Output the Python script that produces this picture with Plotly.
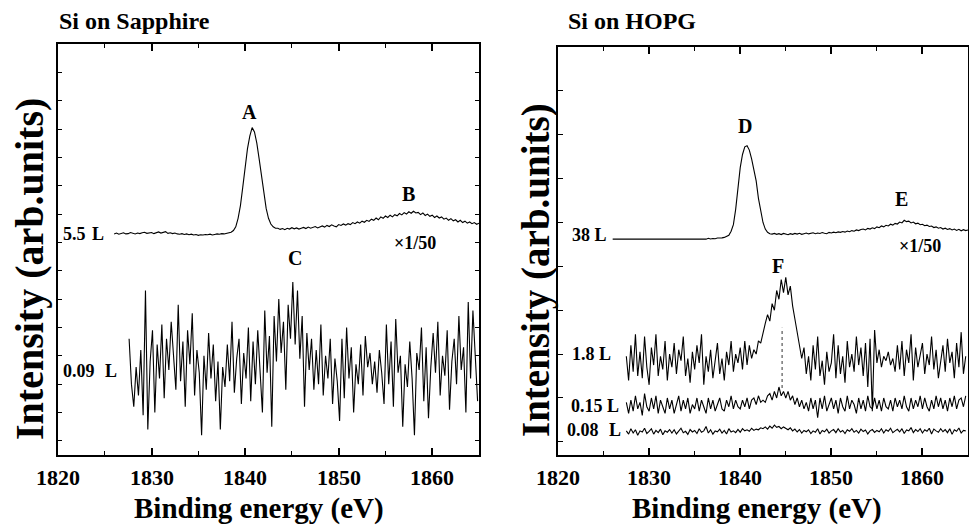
import plotly.graph_objects as go

# ---------------- data ----------------
X_RANGE = [1820, 1865]
X_TICKS = [1820, 1830, 1840, 1850, 1860]

# Si on Sapphire, 5.5 L (x1/50), grid start / step in eV
S55_START, S55_STEP = 1826.0, 0.25
S55_I = [7.30,7.33,7.29,7.32,7.34,7.30,7.31,7.35,7.32,7.30,
         7.33,7.31,7.34,7.36,7.32,7.33,7.35,7.31,7.34,7.37,
         7.33,7.35,7.38,7.32,7.34,7.31,7.33,7.30,7.29,7.31,
         7.28,7.30,7.27,7.29,7.26,7.28,7.25,7.27,7.26,7.28,
         7.27,7.29,7.26,7.28,7.30,7.29,7.31,7.30,7.32,7.33,
         7.36,7.42,7.55,7.85,8.30,8.95,9.65,10.30,10.75,11.05,
         10.90,10.50,9.95,9.30,8.70,8.20,7.85,7.65,7.55,7.50,
         7.50,7.46,7.49,7.45,7.50,7.47,7.52,7.48,7.51,7.47,
         7.50,7.53,7.49,7.54,7.50,7.52,7.56,7.51,7.55,7.58,
         7.54,7.60,7.56,7.62,7.58,7.55,7.63,7.60,7.65,7.61,
         7.66,7.63,7.70,7.66,7.72,7.68,7.75,7.71,7.78,7.74,
         7.82,7.78,7.86,7.80,7.90,7.85,7.93,7.88,7.96,7.90,
         7.98,7.94,8.02,7.97,8.05,8.00,8.08,8.03,8.10,8.04,
         8.06,7.98,8.04,7.95,8.00,7.92,7.96,7.88,7.93,7.86,
         7.90,7.82,7.86,7.78,7.84,7.76,7.80,7.72,7.78,7.70,
         7.75,7.68,7.72,7.66,7.70,7.64,7.68]

# Si on Sapphire, 0.09 L
S009_START, S009_STEP = 1827.6, 0.25
S009_I = [3.6,2.0,1.2,2.6,1.6,3.2,0.9,5.3,0.4,2.8,
          3.9,1.0,3.4,2.2,4.1,1.5,3.6,2.5,4.2,3.0,
          1.8,4.8,2.1,3.5,1.2,3.9,2.7,4.5,1.6,3.2,
          2.4,0.2,3.0,1.8,3.8,2.2,3.4,1.4,2.8,0.4,
          2.6,1.9,3.4,2.1,4.2,1.7,2.9,3.6,1.3,3.1,
          2.2,4.0,1.4,3.5,2.0,3.9,2.6,1.0,4.6,2.4,
          3.7,0.5,4.4,2.8,5.0,3.1,4.2,1.8,4.8,3.6,
          5.6,3.4,5.3,2.9,4.4,1.2,3.8,2.5,3.6,1.8,
          3.2,2.0,4.1,1.6,3.0,2.2,3.6,1.3,2.9,2.1,
          0.7,3.6,1.5,4.0,2.2,3.3,1.0,2.7,2.0,3.4,
          1.6,3.7,2.6,3.1,2.0,2.8,1.7,3.2,2.4,1.3,
          4.1,2.0,3.5,1.2,4.3,2.4,3.0,0.5,2.7,1.9,
          3.5,2.2,0.2,3.1,2.5,4.0,1.4,3.3,0.8,2.6,
          3.8,2.4,4.2,1.6,3.0,2.3,3.9,1.1,2.8,3.6,
          2.0,4.4,2.5,3.3,1.0,4.9,2.2,4.6,3.0,1.4]

# Si on HOPG, 38 L (x1/50): flat start then sampled part
H38_FLAT_E = [1826.0, 1836.25]
H38_FLAT_I = [9.24, 9.24]
H38_START, H38_STEP = 1836.5, 0.25
H38_I = [9.28,9.25,9.27,9.26,9.29,9.28,9.30,9.32,9.36,9.42,
         9.60,9.90,10.60,11.60,12.50,13.10,13.45,13.50,13.30,12.90,
         12.40,11.90,11.10,10.50,10.00,9.70,9.55,9.49,
         9.47,9.50,9.46,9.49,9.45,9.50,9.47,9.44,9.49,9.46,
         9.50,9.47,9.51,9.46,9.49,9.52,9.48,9.50,9.53,9.49,
         9.52,9.50,9.54,9.51,9.49,9.55,9.52,9.56,9.53,9.57,
         9.55,9.59,9.56,9.61,9.58,9.63,9.60,9.66,9.63,9.68,
         9.70,9.66,9.73,9.70,9.76,9.72,9.80,9.76,9.84,9.80,
         9.87,9.84,9.92,9.88,9.96,9.93,10.02,9.98,10.10,10.04,
         10.06,9.98,10.02,9.94,9.97,9.90,9.92,9.85,9.88,9.82,
         9.84,9.77,9.80,9.74,9.77,9.70,9.74,9.68,9.72,9.66,
         9.70,9.64,9.69,9.62,9.67,9.63,9.66]

# Si on HOPG, 1.8 L
H18_START, H18_STEP = 1827.5, 0.25
H18_I = [3.9,2.8,4.4,3.2,4.9,3.0,4.1,2.9,4.8,3.4,
         2.6,4.3,3.5,4.9,3.0,3.9,3.3,4.6,2.8,4.0,
         3.4,4.5,3.1,4.2,3.7,4.8,3.0,3.8,2.7,4.1,
         3.3,4.4,3.6,4.9,2.6,3.9,3.2,4.2,2.9,3.7,
         4.5,3.1,3.8,2.8,4.1,3.5,4.6,3.2,4.0,3.6,
         4.3,3.3,4.6,3.5,4.4,3.8,4.2,4.0,4.6,4.5,
         5.0,5.4,5.8,5.5,6.3,6.0,6.9,6.5,7.4,6.8,
         7.5,6.7,7.1,6.2,5.6,5.0,4.4,3.8,4.3,3.1,
         3.9,2.8,4.4,3.3,4.8,3.0,3.7,2.6,4.1,3.2,
         3.6,4.9,2.9,4.4,3.1,3.9,2.7,4.6,3.4,4.0,
         3.2,4.8,3.5,4.3,3.0,4.5,2.5,4.7,1.4,5.1,
         3.6,4.2,3.4,3.9,3.7,4.1,3.5,3.8,3.2,4.4,
         3.3,4.6,3.0,4.2,3.6,4.9,2.8,4.3,3.4,3.9,
         4.5,3.1,4.0,3.5,4.8,3.3,4.2,2.9,3.8,4.4,
         3.2,4.7,3.6,4.1,2.9,4.5,3.4,5.0,3.1,3.9]

# Si on HOPG, 0.15 L
H015_START, H015_STEP = 1827.5, 0.25
H015_I = [1.8,1.3,1.9,1.4,2.1,1.5,1.8,1.2,2.2,1.6,
          1.4,2.0,1.5,2.1,1.3,1.9,1.6,1.3,2.0,1.5,
          1.9,1.3,1.7,2.1,1.4,1.9,1.5,2.0,1.3,1.7,
          1.5,2.0,1.4,1.9,1.6,1.3,2.0,1.5,1.9,1.4,
          1.7,2.0,1.5,1.4,1.9,1.6,2.1,1.5,1.9,1.6,
          1.5,1.9,1.6,2.0,1.5,1.9,2.0,1.7,2.1,1.8,
          1.9,1.8,2.1,2.2,1.9,2.3,2.0,2.5,2.1,2.3,
          2.0,2.3,1.9,2.1,1.7,2.0,1.6,1.9,1.5,1.8,
          1.4,2.0,1.5,1.9,1.1,2.0,1.5,2.1,1.4,1.7,
          2.0,1.5,1.9,1.3,2.0,1.6,1.4,2.1,1.5,1.9,
          1.7,1.3,2.0,1.5,1.9,1.4,2.1,1.6,1.5,2.0,
          1.5,1.9,1.4,2.0,1.6,1.5,1.9,1.4,2.0,1.6,
          1.9,1.5,2.1,1.6,1.4,2.0,1.5,1.9,1.6,2.1,
          1.5,2.0,1.6,1.4,1.9,1.5,2.1,1.6,2.0,1.5,
          1.9,1.4,2.0,1.6,2.1,1.5,1.9,2.0,1.6,2.1]

# Si on HOPG, 0.08 L
H008_START, H008_STEP = 1827.5, 0.25
H008_I = [0.50,0.35,0.60,0.40,0.55,0.30,0.50,0.45,0.62,0.38,
          0.48,0.60,0.35,0.52,0.42,0.58,0.32,0.50,0.44,0.56,
          0.40,0.55,0.36,0.50,0.62,0.42,0.48,0.34,0.56,0.45,
          0.52,0.38,0.60,0.44,0.50,0.70,0.40,0.55,0.35,0.50,
          0.46,0.58,0.40,0.52,0.36,0.60,0.45,0.50,0.42,0.57,
          0.44,0.60,0.50,0.55,0.48,0.62,0.52,0.58,0.55,0.64,
          0.60,0.68,0.58,0.72,0.62,0.76,0.66,0.70,0.60,0.68,
          0.62,0.55,0.64,0.50,0.58,0.45,0.56,0.40,0.52,0.46,
          0.55,0.38,0.50,0.44,0.60,0.36,0.52,0.46,0.58,0.40,
          0.50,0.56,0.42,0.60,0.45,0.52,0.38,0.55,0.48,0.60,
          0.44,0.52,0.40,0.58,0.47,0.54,0.36,0.50,0.56,0.43,
          0.52,0.46,0.60,0.40,0.55,0.48,0.62,0.42,0.50,0.57,
          0.45,0.60,0.38,0.54,0.50,0.65,0.42,0.56,0.47,0.60,
          0.40,0.55,0.48,0.62,0.36,0.58,0.50,0.44,0.60,0.46,
          0.56,0.42,0.60,0.34,0.55,0.48,0.63,0.40,0.52,0.50]

# dotted marker under peak F
F_LINE_E = [1844.6, 1844.6]
F_LINE_I = [2.46, 5.2]


def grid(start, step, n):
    return [start + step * k for k in range(n)]


# ---------------- figure ----------------
W, H = 969, 532
FONT = "Liberation Serif, Times New Roman, serif"


def px(x):
    return x / W


def py(y):
    return 1 - y / H


fig = go.Figure()
line = dict(color="black", width=1.1)

fig.add_trace(go.Scatter(x=grid(S55_START, S55_STEP, len(S55_I)), y=S55_I,
                         mode="lines", line=line, xaxis="x", yaxis="y"))
fig.add_trace(go.Scatter(x=grid(S009_START, S009_STEP, len(S009_I)), y=S009_I,
                         mode="lines", line=line, xaxis="x", yaxis="y"))

fig.add_trace(go.Scatter(x=H38_FLAT_E + grid(H38_START, H38_STEP, len(H38_I)),
                         y=H38_FLAT_I + H38_I,
                         mode="lines", line=line, xaxis="x2", yaxis="y2"))
fig.add_trace(go.Scatter(x=grid(H18_START, H18_STEP, len(H18_I)), y=H18_I,
                         mode="lines", line=line, xaxis="x2", yaxis="y2"))
fig.add_trace(go.Scatter(x=grid(H015_START, H015_STEP, len(H015_I)), y=H015_I,
                         mode="lines", line=line, xaxis="x2", yaxis="y2"))
fig.add_trace(go.Scatter(x=grid(H008_START, H008_STEP, len(H008_I)), y=H008_I,
                         mode="lines", line=line, xaxis="x2", yaxis="y2"))
fig.add_trace(go.Scatter(x=F_LINE_E, y=F_LINE_I, mode="lines",
                         line=dict(color="#777777", width=1.5, dash="dot"),
                         xaxis="x2", yaxis="y2"))

xcommon = dict(range=X_RANGE, tickvals=X_TICKS, showticklabels=False,
               ticks="inside", ticklen=7, tickwidth=1.5, tickcolor="black",
               showline=True, linecolor="black", linewidth=1.5, mirror="ticks",
               showgrid=False, zeroline=False, automargin=False,
               minor=dict(dtick=5, tick0=1820, ticks="inside", ticklen=4,
                          tickwidth=1.2, tickcolor="black", showgrid=False))

fig.update_layout(
    width=W, height=H, margin=dict(l=0, r=0, t=0, b=0),
    paper_bgcolor="white", plot_bgcolor="white", showlegend=False,
    xaxis=dict(domain=[px(58), px(479)], anchor="y", **xcommon),
    xaxis2=dict(domain=[px(558), px(968)], anchor="y2", **xcommon),
    yaxis=dict(domain=[py(455), py(44)], anchor="x", range=[-0.5, 14], dtick=1, tick0=0,
               ticks="inside", ticklen=4, tickwidth=1.2, tickcolor="black",
               showline=True, linecolor="black", linewidth=1.5, mirror="ticks",
               showticklabels=False, showgrid=False, zeroline=False, automargin=False),
    yaxis2=dict(domain=[py(455), py(47)], anchor="x2", range=[-0.6, 18], dtick=2, tick0=0,
                ticks="inside", ticklen=5, tickwidth=1.2, tickcolor="black",
                showline=True, linecolor="black", linewidth=1.5, mirror=True,
                showticklabels=False, showgrid=False, zeroline=False, automargin=False),
    yaxis3=dict(overlaying="y2", anchor="x2", side="right", range=[-0.6, 18], dtick=1, tick0=0,
                ticks="inside", ticklen=5, tickwidth=1.2, tickcolor="black",
                showline=False, showticklabels=False, showgrid=False, zeroline=False,
                automargin=False),
)


def label(text, x, y, size, angle=0, xanchor="center"):
    fig.add_annotation(text=text, x=px(x), y=py(y), xref="paper", yref="paper",
                       xanchor=xanchor, yanchor="middle", showarrow=False, textangle=angle,
                       font=dict(family=FONT, size=size, color="black", weight="bold"))


# tick labels placed through each x axis' own scale
for xref in ("x", "x2"):
    for v in X_TICKS:
        fig.add_annotation(text=str(v), x=v, y=py(477), xref=xref, yref="paper",
                           xanchor="center", yanchor="middle", showarrow=False,
                           font=dict(family=FONT, size=22, color="black", weight="bold"))

# titles
label("Si on Sapphire", 57, 21, 24, xanchor="left")
label("Si on HOPG", 566, 21, 24, xanchor="left")
# axis titles
label("Intensity (arb.units)", 29, 269, 40, angle=-90)
label("Intensity (arb.units)", 536, 270, 39, angle=-90)
label("Binding energy (eV)", 259, 508, 29)
label("Binding energy (eV)", 757, 508, 29)
# left panel labels
label("5.5", 74, 234, 18)
label("L", 98, 234, 18)
label("0.09", 79, 371, 18)
label("L", 111, 371, 18)
label("A", 249, 112, 20)
label("B", 408, 194, 20)
label("C", 295, 258, 20)
label("\u00d71/50", 415, 243, 18)
# right panel labels
label("38 L", 589, 235, 18)
label("1.8 L", 591, 354, 18)
label("0.15 L", 595, 406, 18)
label("0.08", 583, 430, 18)
label("L", 615, 430, 18)
label("D", 745, 126, 20)
label("E", 901, 199, 20)
label("F", 778, 266, 20)
label("\u00d71/50", 920, 246, 18)

fig.write_html("out.html", config={"displayModeBar": False},
               post_script="document.body.style.margin='0';document.body.style.padding='0';")
